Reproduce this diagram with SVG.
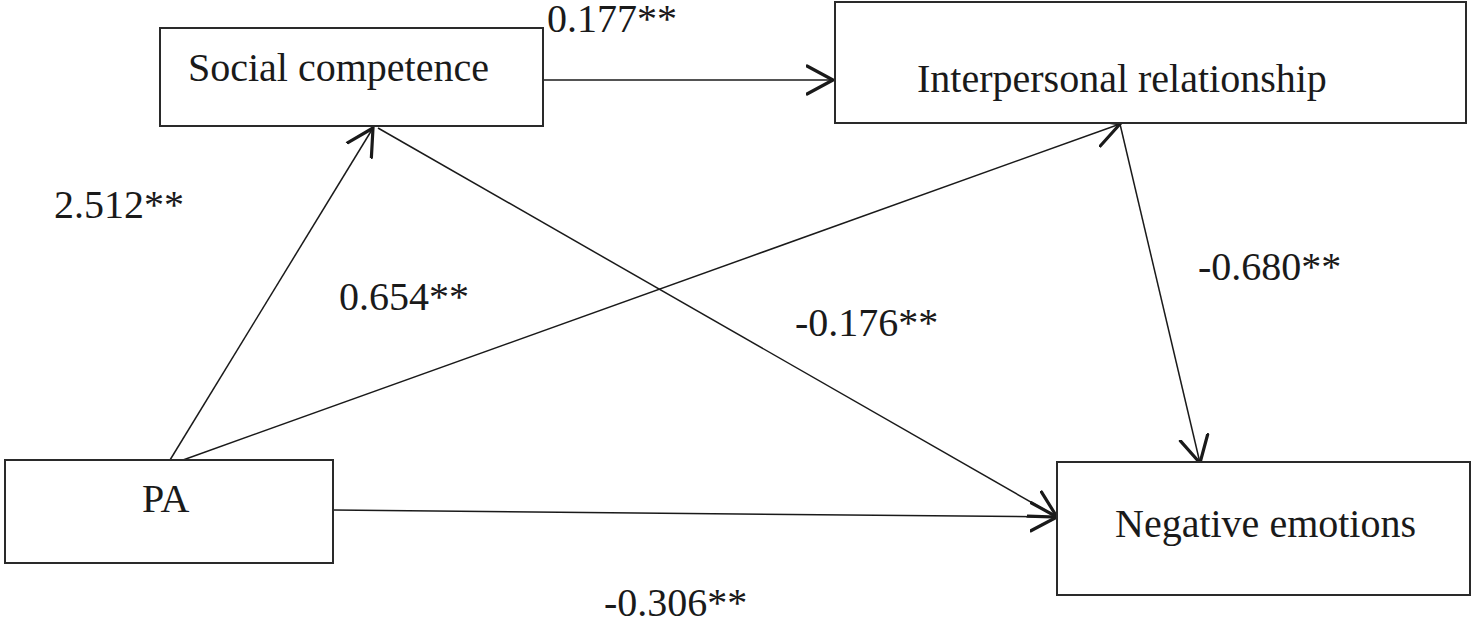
<svg xmlns="http://www.w3.org/2000/svg" width="1479" height="621" viewBox="0 0 1479 621">
<style>
.box{fill:#fff;stroke:#2a2a2a;stroke-width:2}
.t{font-family:"Liberation Serif","Times New Roman",serif;font-size:40px;fill:#1a1a1a}
.n{font-family:"Liberation Serif","Times New Roman",serif;font-size:40px;fill:#1a1a1a}
.c{fill:none;stroke:#1a1a1a;stroke-width:1.5}
</style>
<defs>
<marker id="ah" markerUnits="userSpaceOnUse" viewBox="0 0 30 32" markerWidth="30" markerHeight="32" refX="27" refY="16" orient="auto">
<path d="M1,2 L27,16 L1,30" fill="none" stroke="#1a1a1a" stroke-width="3.2" stroke-linecap="round" stroke-linejoin="miter"/>
</marker>
</defs>
<rect width="1479" height="621" fill="#fff"/>
<g id="connectors">
<line class="c" x1="543" y1="80" x2="833" y2="80" marker-end="url(#ah)"/>
<line class="c" x1="170" y1="460" x2="373" y2="128" marker-end="url(#ah)"/>
<line class="c" x1="183" y1="460" x2="1120" y2="124" marker-end="url(#ah)"/>
<line class="c" x1="378" y1="128" x2="1057" y2="517" marker-end="url(#ah)"/>
<line class="c" x1="333" y1="510" x2="1057" y2="517" marker-end="url(#ah)"/>
<line class="c" x1="1120" y1="124" x2="1200" y2="463" marker-end="url(#ah)"/>
</g>
<g id="node-social">
<rect class="box" x="160" y="28" width="383" height="98"/>
<text class="t" x="188" y="81">Social competence</text>
</g>
<g id="node-interpersonal">
<rect class="box" x="835" y="2" width="631" height="121"/>
<text class="t" x="917" y="92">Interpersonal relationship</text>
</g>
<g id="node-pa">
<rect class="box" x="5" y="460" width="328" height="103"/>
<text class="t" x="142" y="512">PA</text>
</g>
<g id="node-negative">
<rect class="box" x="1057" y="462" width="413" height="133"/>
<text class="t" x="1115" y="537">Negative emotions</text>
</g>
<g id="labels">
<text class="n" x="547" y="32">0.177**</text>
<text class="n" x="54" y="218">2.512**</text>
<text class="n" x="339" y="310">0.654**</text>
<text class="n" x="795" y="336">-0.176**</text>
<text class="n" x="1198" y="280">-0.680**</text>
<text class="n" x="604" y="616">-0.306**</text>
</g>
</svg>
